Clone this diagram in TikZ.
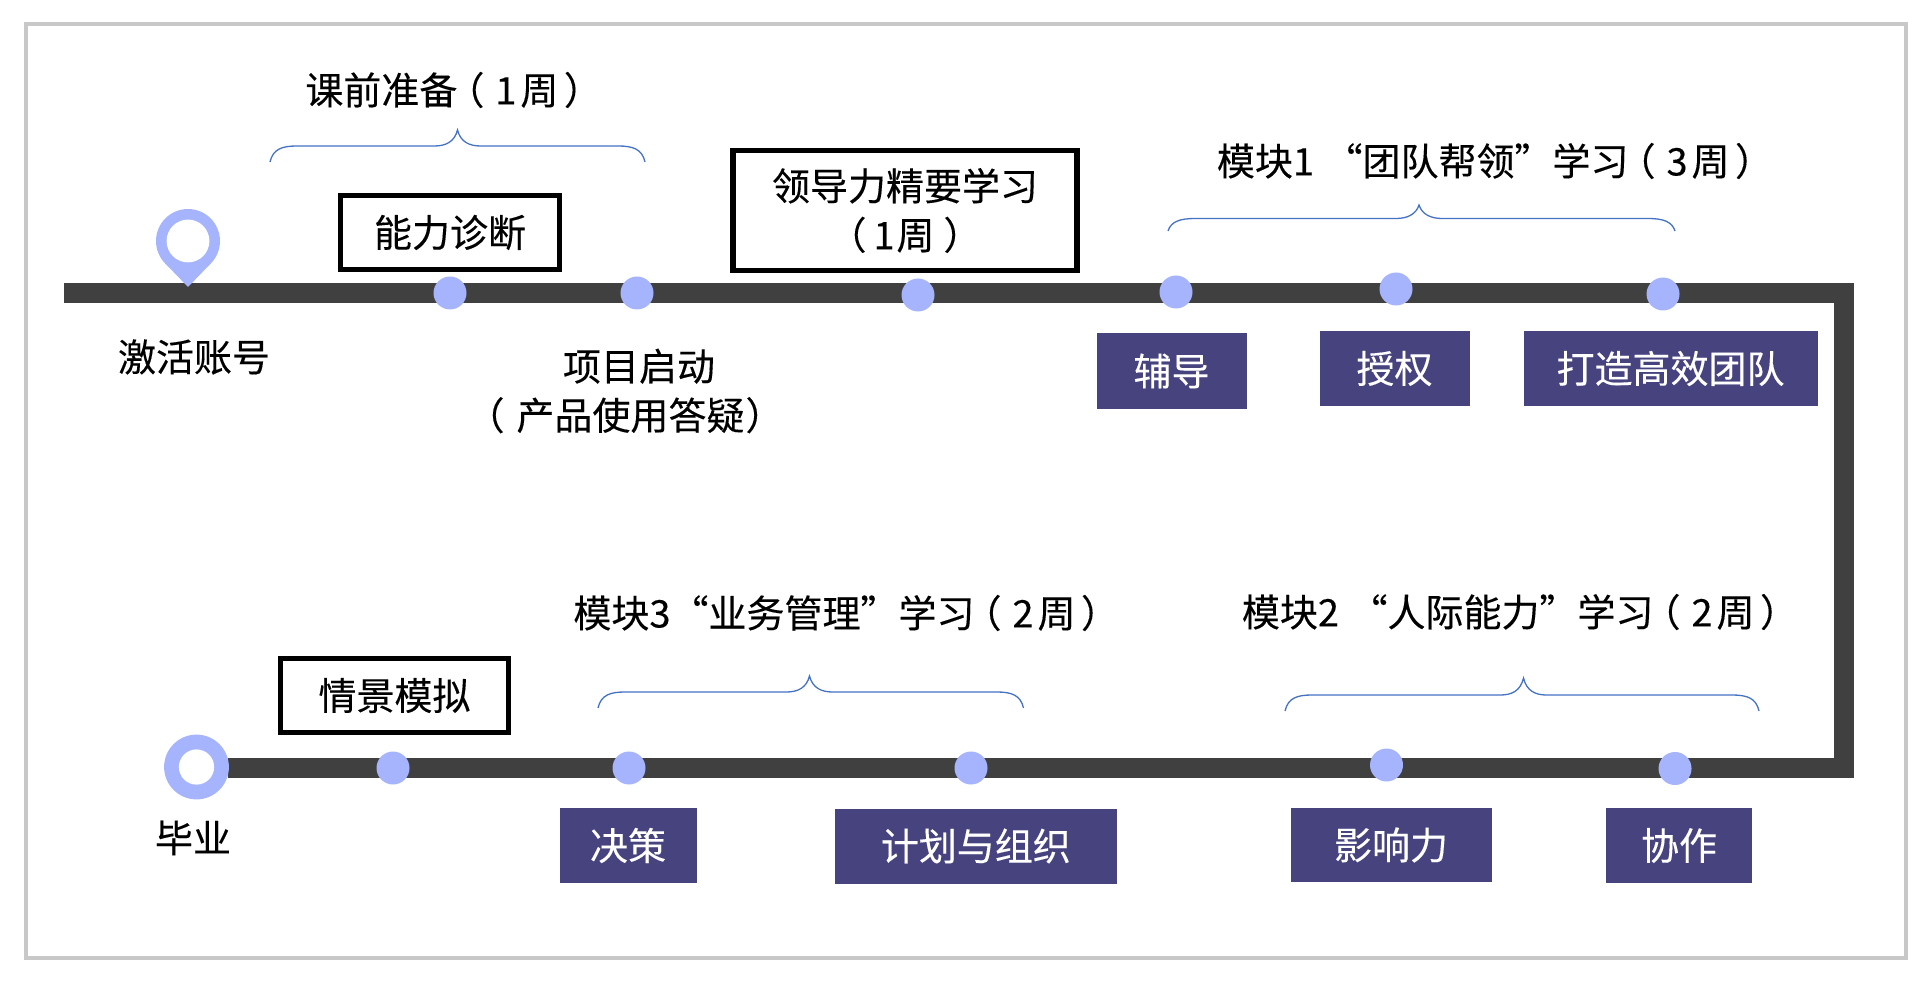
\documentclass[tikz,border=0pt]{standalone}
\usepackage{fontspec}
\setmainfont[FakeBold=0.25]{Noto Sans CJK SC}
\definecolor{framegray}{HTML}{C8C8C8}
\definecolor{linedark}{HTML}{404040}
\definecolor{dotblue}{HTML}{A6B4FE}
\definecolor{boxpurple}{HTML}{46437F}
\definecolor{braceblue}{HTML}{4472C4}
\newcommand{\bluebrace}[6]{%
  \draw[bracestyle] (#1,#6) .. controls (#1+3,#5+3) and (#1+12,#5) .. (#1+27,#5)
    -- (#2-23,#5) .. controls (#2-12,#5) and (#2-3,#5-4) .. (#2,#4)
    .. controls (#2+3,#5-4) and (#2+12,#5) .. (#2+23,#5)
    -- (#3-27,#5) .. controls (#3-12,#5) and (#3-3,#5+3) .. (#3,#6);}
\newcommand{\weeks}[2]{\kern-5.5pt （\kern5.5pt #1\kern2pt #2\kern2.7pt ）}
\tikzset{
  x=0.5pt,y=-0.5pt,
  bracestyle/.style={draw=braceblue,line width=0.65pt},
  dot/.style={circle,fill=dotblue,minimum size=16.5pt,inner sep=0pt},
  label/.style={font=\fontsize{19pt}{24.5pt}\selectfont,text=black,inner sep=0pt,align=center},
  wlabel/.style={label,anchor=west},
  blackbox/.style={draw=black,line width=2.6pt,fill=white,font=\fontsize{19pt}{24.5pt}\selectfont,inner sep=0pt,align=center,minimum width=#1},
  purplebox/.style={fill=boxpurple,text=white,font=\fontsize{19pt}{24.5pt}\selectfont,inner sep=0pt},
}
\begin{document}
\begin{tikzpicture}
\useasboundingbox (0,0) rectangle (1925,988);
\draw[framegray,line width=2pt] (26,24) rectangle (1906,958);

% timeline
\coordinate (tstart) at (64,293);
\coordinate (cornerA) at (1843.5,293);
\coordinate (cornerB) at (1843.5,768);
\coordinate (tend) at (228,768);
\draw[linedark,line width=10pt,miter limit=10] (tstart) -- (cornerA) -- (cornerB) -- (tend);

% start pin
\coordinate (pincentre) at (188,241);
\coordinate (pintip) at (188,287);
\fill[dotblue] (pincentre) circle (16pt);
\fill[dotblue] (pintip) -- (165,263.2) -- (211,263.2) -- cycle;
\fill[white] (pincentre) circle (10.7pt);

% end ring
\coordinate (ringcentre) at (196.5,767);
\fill[dotblue] (ringcentre) circle (16.2pt);
\fill[white] (ringcentre) circle (8.8pt);

% dots
\node[dot] (d1) at (450,293) {};
\node[dot] (d2) at (637,293) {};
\node[dot] (d3) at (918,295) {};
\node[dot] (d4) at (1176,292) {};
\node[dot] (d5) at (1396,289) {};
\node[dot] (d6) at (1663,294) {};
\node[dot] (d7) at (393,768) {};
\node[dot] (d8) at (629,768) {};
\node[dot] (d9) at (971,768) {};
\node[dot] (d10) at (1386.5,765) {};
\node[dot] (d11) at (1675,768.5) {};

% black boxes
\node[blackbox=109.5pt,minimum height=37pt] (nengli) at (450,232.5) {能力诊断};
\node[blackbox=172pt,minimum height=60pt] (lingdao) at (905,210.5) {领导力精要学习\\（\kern3.5pt 1\kern1pt 周\kern4.5pt ）};
\node[blackbox=114pt,minimum height=37pt] (qingjing) at (394.5,695.5) {情景模拟};

% purple boxes
\node[purplebox,minimum width=75pt,minimum height=38pt] (fudao) at (1171.5,371) {辅导};
\node[purplebox,minimum width=75pt,minimum height=37.5pt] (shouquan) at (1394.5,368.5) {授权};
\node[purplebox,minimum width=147pt,minimum height=37.5pt] (dazao) at (1670.5,368.5) {打造高效团队};
\node[purplebox,minimum width=68.5pt,minimum height=37.5pt] (juece) at (628,845.5) {决策};
\node[purplebox,minimum width=141pt,minimum height=37.5pt] (jihua) at (975.8,846) {计划与组织};
\node[purplebox,minimum width=100.5pt,minimum height=37pt] (yingxiang) at (1391,845) {影响力};
\node[purplebox,minimum width=73pt,minimum height=37.5pt] (xiezuo) at (1679,845.5) {协作};

% labels
\node[wlabel] (l1) at (305,90) {课前准备\weeks{1}{周}};
\node[label] (l2) at (194,357) {激活账号};
\node[label] (l3) at (625,391) {\hspace*{14pt}项目启动\\（\kern6pt 产品使用答疑\kern0.5pt ）};
\node[wlabel] (l4) at (1216.5,161) {模块1 \kern1pt “团队帮领”学习\weeks{3}{周}};
\node[wlabel] (l5) at (573,613) {模块3“业务管理”学习\weeks{2}{周}};
\node[wlabel] (l6) at (1241.5,612) {模块2 \kern1pt “人际能力”学习\weeks{2}{周}};
\node[label] (l7) at (193,838) {毕业};

% braces
\bluebrace{270}{457.5}{645}{130}{146}{162}
\bluebrace{1168}{1419}{1675}{205}{218.5}{231}
\bluebrace{598}{809.5}{1023.5}{676}{692}{708}
\bluebrace{1285}{1523.5}{1759}{678}{695}{711}
\end{tikzpicture}
\end{document}
